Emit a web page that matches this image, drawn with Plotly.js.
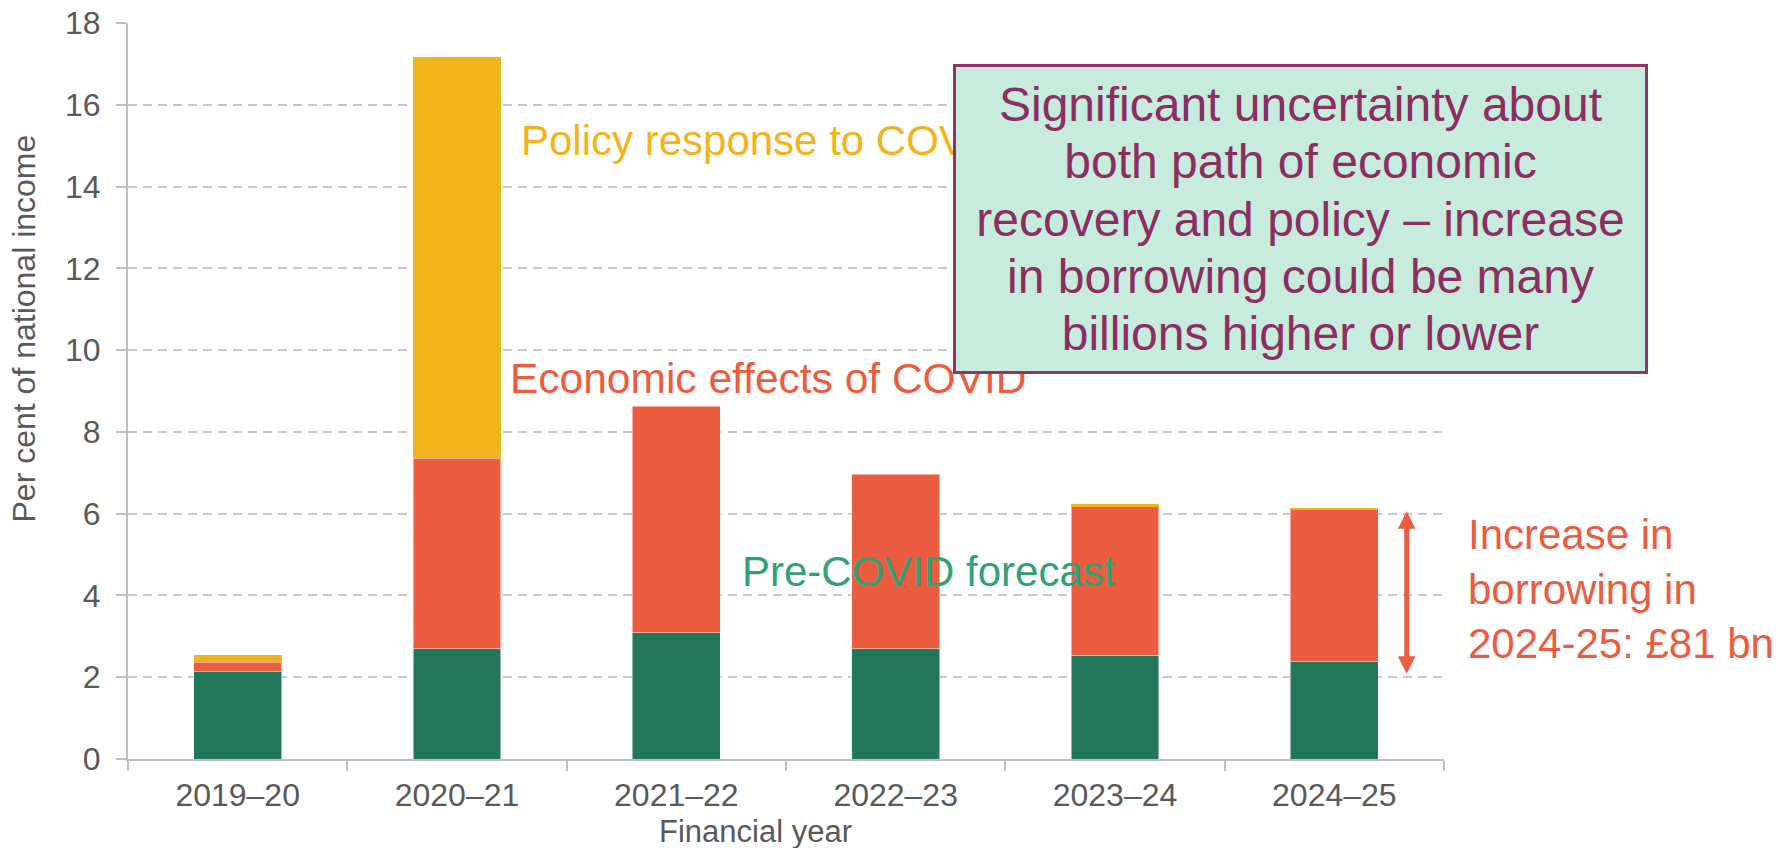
<!DOCTYPE html>
<html>
<head>
<meta charset="utf-8">
<script src="https://cdn.plot.ly/plotly-3.0.1.min.js"></script>
<style>html,body{margin:0;padding:0;background:#fff;}#chart{width:1790px;height:848px;}</style>
</head>
<body>
<div id="chart"></div>
<script>
// Data (per cent of national income)
const categories = ['2019–20', '2020–21', '2021–22', '2022–23', '2023–24', '2024–25'];
const preCovidForecast = [2.13, 2.70, 3.09, 2.70, 2.54, 2.38];
const economicEffects = [0.24, 4.66, 5.54, 4.27, 3.63, 3.73];
const policyResponse = [0.18, 9.82, 0, 0, 0.06, 0.04];
const yTickValues = [0, 2, 4, 6, 8, 10, 12, 14, 16, 18];
const arrowCategoryPos = 5.33;     // just right of the 2024–25 bar
const arrowRange = [2.05, 6.06];   // increase in borrowing, 2024–25

const GREEN = '#22775A', RED = '#EB5D40', YELLOW = '#F0B41A';
const barLine = {color: 'rgba(255,255,255,0.6)', width: 0.8};

const traces = [
  {type: 'bar', name: 'Pre-COVID forecast', x: categories, y: preCovidForecast,
   marker: {color: GREEN, line: barLine}, hoverinfo: 'x+y+name'},
  {type: 'bar', name: 'Economic effects of COVID', x: categories, y: economicEffects,
   marker: {color: RED, line: barLine}, hoverinfo: 'x+y+name'},
  {type: 'bar', name: 'Policy response to COVID', x: categories, y: policyResponse,
   marker: {color: YELLOW, line: {width: 0}}, hoverinfo: 'x+y+name'}
];

const FONT = 'Liberation Sans, Arial, Helvetica, sans-serif';
const AXIS_GREY = '#BFBFBF';

const boxLines = ['Significant uncertainty about', 'both path of economic',
  'recovery and policy – increase', 'in borrowing could be many', 'billions higher or lower'];

const layout = {
  width: 1790, height: 848,
  margin: {l: 128, r: 346, t: 23, b: 89, pad: 0},
  paper_bgcolor: '#ffffff', plot_bgcolor: '#ffffff',
  font: {family: FONT, color: '#595959'},
  barmode: 'stack', bargap: 0.6, showlegend: false,
  xaxis: {
    type: 'category', range: [-0.5, 5.5],
    showline: true, linecolor: AXIS_GREY, linewidth: 2,
    ticks: 'outside', tickson: 'boundaries', ticklen: 10, tickwidth: 2, tickcolor: AXIS_GREY,
    tickfont: {size: 32, color: '#595959', family: FONT},
    ticklabelstandoff: 7,
    showgrid: false, zeroline: false, fixedrange: true
  },
  yaxis: {
    range: [0, 18], tickvals: yTickValues,
    showline: true, linecolor: AXIS_GREY, linewidth: 2,
    ticks: 'outside', ticklen: 10, tickwidth: 2, tickcolor: AXIS_GREY,
    tickfont: {size: 32, color: '#595959', family: FONT},
    ticklabelstandoff: 9,
    showgrid: true, gridcolor: '#C8C8C8', gridwidth: 2, griddash: '9px,6px',
    zeroline: false, fixedrange: true
  },
  annotations: [
    {xref: 'paper', yref: 'paper', x: 0.4772, y: -0.0982, xanchor: 'center', yanchor: 'middle',
     text: 'Financial year', showarrow: false, borderpad: 0,
     font: {size: 31, color: '#595959', family: FONT}},
    {xref: 'paper', yref: 'paper', x: -0.079, y: 0.585, xanchor: 'center', yanchor: 'middle',
     text: 'Per cent of national income', textangle: -90, showarrow: false, borderpad: 0,
     font: {size: 32, color: '#595959', family: FONT}},
    {xref: 'paper', yref: 'paper', x: 0.2975, y: 0.8405, xanchor: 'left', yanchor: 'middle',
     text: 'Policy response to COVID', showarrow: false, borderpad: 0,
     font: {size: 42, color: '#F2B31B', family: FONT}},
    {xref: 'paper', yref: 'paper', x: 0.2895, y: 0.5175, xanchor: 'left', yanchor: 'middle',
     text: 'Economic effects of COVID', showarrow: false, borderpad: 0,
     font: {size: 42.5, color: RED, family: FONT}},
    {xref: 'paper', yref: 'paper', x: 0.4655, y: 0.2553, xanchor: 'left', yanchor: 'middle',
     text: 'Pre-COVID forecast', showarrow: false, borderpad: 0,
     font: {size: 42, color: '#30A275', family: FONT}},
    {xref: 'paper', yref: 'paper', x: 1.0173, y: 0.231, xanchor: 'left', yanchor: 'middle',
     align: 'left', text: 'Increase in<br>borrowing in<br>2024-25: £81 bn', showarrow: false, borderpad: 0,
     font: {size: 42, color: RED, family: FONT}},
    {xref: 'x', yref: 'y', axref: 'x', ayref: 'y',
     x: arrowCategoryPos, y: arrowRange[1], ax: arrowCategoryPos, ay: arrowRange[0],
     text: '', showarrow: true, arrowside: 'end+start',
     arrowhead: 2, startarrowhead: 2, arrowsize: 0.7, startarrowsize: 0.7,
     arrowwidth: 5, arrowcolor: RED, standoff: 0, startstandoff: 0},
    {xref: 'paper', yref: 'paper', x: 0.6269, y: 0.9443, xanchor: 'left', yanchor: 'top',
     width: 689, height: 304, align: 'center', valign: 'middle',
     bgcolor: '#C7ECDE', bordercolor: '#8E3766', borderwidth: 3, borderpad: 0,
     text: boxLines.map(s => '<span style="font-size:48px">' + s + '</span>').join('<br>'),
     showarrow: false, font: {size: 44, color: '#8B2F60', family: FONT}}
  ]
};

Plotly.newPlot('chart', traces, layout, {displayModeBar: false, responsive: false});
</script>
</body>
</html>
